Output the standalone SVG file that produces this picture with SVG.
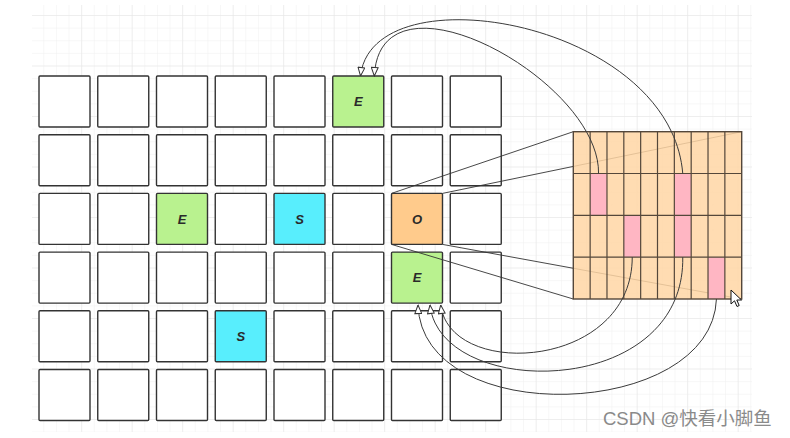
<svg xmlns="http://www.w3.org/2000/svg" width="790" height="438" viewBox="0 0 790 438">
<style>
.cell{fill:#ffffff;stroke:#333333;stroke-width:1.4}
.green{fill:#b9f28f}
.cyan{fill:#58eefd}
.orange{fill:#ffcb8c}
.lbl{font-family:"Liberation Sans",Arial,sans-serif;font-size:13px;font-weight:bold;font-style:italic;fill:#2a2a2a;text-anchor:middle}
.zl{stroke:#333333;stroke-width:0.9;fill:none}
.cv{stroke:#3a3a3a;stroke-width:1;fill:none;marker-end:url(#open)}
.xg{fill:#ffd6a5;fill-opacity:0.85}
.pk{fill:#ffb4c4;fill-opacity:0.94}
.gl{stroke:#54473a;stroke-width:1.2;fill:none}
</style>
<defs>
<pattern id="minor" patternUnits="userSpaceOnUse" x="5.425" y="2.375" width="12.625" height="12.625">
<path d="M12.625 0 L0 0 0 12.625" fill="none" stroke="#efefef" stroke-width="1"/>
</pattern>
<pattern id="major" patternUnits="userSpaceOnUse" x="30.7" y="15" width="50.5" height="50.5">
<path d="M50.5 0 L0 0 0 50.5" fill="none" stroke="#e6e6e6" stroke-width="1"/>
</pattern>
<marker id="open" viewBox="0 0 10 8" refX="9.5" refY="4" markerWidth="10" markerHeight="8" markerUnits="userSpaceOnUse" orient="auto">
<path d="M1 0.6 L9.5 4 L1 7.4 Z" fill="#ffffff" stroke="#333333" stroke-width="1"/>
</marker>
</defs>
<rect width="790" height="438" fill="#ffffff"/>
<g id="background-grid">
<rect x="32" y="5" width="720" height="427" fill="url(#minor)"/>
<rect x="32" y="5" width="720" height="427" fill="url(#major)"/>
</g>
<g id="cells">
<g id="r0c0"><rect class="cell" x="39" y="76" width="51" height="51" rx="1"/></g>
<g id="r0c1"><rect class="cell" x="97.75" y="76" width="51" height="51" rx="1"/></g>
<g id="r0c2"><rect class="cell" x="156.5" y="76" width="51" height="51" rx="1"/></g>
<g id="r0c3"><rect class="cell" x="215.25" y="76" width="51" height="51" rx="1"/></g>
<g id="r0c4"><rect class="cell" x="274" y="76" width="51" height="51" rx="1"/></g>
<g id="r0c5"><rect class="cell green" x="332.75" y="76" width="51" height="51" rx="1"/><text class="lbl" x="358.25" y="106">E</text></g>
<g id="r0c6"><rect class="cell" x="391.5" y="76" width="51" height="51" rx="1"/></g>
<g id="r0c7"><rect class="cell" x="450.25" y="76" width="51" height="51" rx="1"/></g>

<g id="r1c0"><rect class="cell" x="39" y="134.7" width="51" height="51" rx="1"/></g>
<g id="r1c1"><rect class="cell" x="97.75" y="134.7" width="51" height="51" rx="1"/></g>
<g id="r1c2"><rect class="cell" x="156.5" y="134.7" width="51" height="51" rx="1"/></g>
<g id="r1c3"><rect class="cell" x="215.25" y="134.7" width="51" height="51" rx="1"/></g>
<g id="r1c4"><rect class="cell" x="274" y="134.7" width="51" height="51" rx="1"/></g>
<g id="r1c5"><rect class="cell" x="332.75" y="134.7" width="51" height="51" rx="1"/></g>
<g id="r1c6"><rect class="cell" x="391.5" y="134.7" width="51" height="51" rx="1"/></g>
<g id="r1c7"><rect class="cell" x="450.25" y="134.7" width="51" height="51" rx="1"/></g>

<g id="r2c0"><rect class="cell" x="39" y="193.4" width="51" height="51" rx="1"/></g>
<g id="r2c1"><rect class="cell" x="97.75" y="193.4" width="51" height="51" rx="1"/></g>
<g id="r2c2"><rect class="cell green" x="156.5" y="193.4" width="51" height="51" rx="1"/><text class="lbl" x="182" y="223.6">E</text></g>
<g id="r2c3"><rect class="cell" x="215.25" y="193.4" width="51" height="51" rx="1"/></g>
<g id="r2c4"><rect class="cell cyan" x="274" y="193.4" width="51" height="51" rx="1"/><text class="lbl" x="299.5" y="223.6">S</text></g>
<g id="r2c5"><rect class="cell" x="332.75" y="193.4" width="51" height="51" rx="1"/></g>
<g id="r2c6"><rect class="cell orange" x="391.5" y="193.4" width="51" height="51" rx="1"/><text class="lbl" x="417" y="223.6">O</text></g>
<g id="r2c7"><rect class="cell" x="450.25" y="193.4" width="51" height="51" rx="1"/></g>

<g id="r3c0"><rect class="cell" x="39" y="252.1" width="51" height="51" rx="1"/></g>
<g id="r3c1"><rect class="cell" x="97.75" y="252.1" width="51" height="51" rx="1"/></g>
<g id="r3c2"><rect class="cell" x="156.5" y="252.1" width="51" height="51" rx="1"/></g>
<g id="r3c3"><rect class="cell" x="215.25" y="252.1" width="51" height="51" rx="1"/></g>
<g id="r3c4"><rect class="cell" x="274" y="252.1" width="51" height="51" rx="1"/></g>
<g id="r3c5"><rect class="cell" x="332.75" y="252.1" width="51" height="51" rx="1"/></g>
<g id="r3c6"><rect class="cell green" x="391.5" y="252.1" width="51" height="51" rx="1"/><text class="lbl" x="417" y="282.3">E</text></g>
<g id="r3c7"><rect class="cell" x="450.25" y="252.1" width="51" height="51" rx="1"/></g>

<g id="r4c0"><rect class="cell" x="39" y="310.8" width="51" height="51" rx="1"/></g>
<g id="r4c1"><rect class="cell" x="97.75" y="310.8" width="51" height="51" rx="1"/></g>
<g id="r4c2"><rect class="cell" x="156.5" y="310.8" width="51" height="51" rx="1"/></g>
<g id="r4c3"><rect class="cell cyan" x="215.25" y="310.8" width="51" height="51" rx="1"/><text class="lbl" x="240.75" y="341">S</text></g>
<g id="r4c4"><rect class="cell" x="274" y="310.8" width="51" height="51" rx="1"/></g>
<g id="r4c5"><rect class="cell" x="332.75" y="310.8" width="51" height="51" rx="1"/></g>
<g id="r4c6"><rect class="cell" x="391.5" y="310.8" width="51" height="51" rx="1"/></g>
<g id="r4c7"><rect class="cell" x="450.25" y="310.8" width="51" height="51" rx="1"/></g>

<g id="r5c0"><rect class="cell" x="39" y="369.5" width="51" height="51" rx="1"/></g>
<g id="r5c1"><rect class="cell" x="97.75" y="369.5" width="51" height="51" rx="1"/></g>
<g id="r5c2"><rect class="cell" x="156.5" y="369.5" width="51" height="51" rx="1"/></g>
<g id="r5c3"><rect class="cell" x="215.25" y="369.5" width="51" height="51" rx="1"/></g>
<g id="r5c4"><rect class="cell" x="274" y="369.5" width="51" height="51" rx="1"/></g>
<g id="r5c5"><rect class="cell" x="332.75" y="369.5" width="51" height="51" rx="1"/></g>
<g id="r5c6"><rect class="cell" x="391.5" y="369.5" width="51" height="51" rx="1"/></g>
<g id="r5c7"><rect class="cell" x="450.25" y="369.5" width="51" height="51" rx="1"/></g>
</g>
<g id="zoom-lines">
<line class="zl" x1="391.5" y1="193.4" x2="573.3" y2="131.7"/>
<line class="zl" x1="442.5" y1="193.4" x2="741.7" y2="131.7"/>
<line class="zl" x1="391.5" y1="244.4" x2="573.3" y2="299"/>
<line class="zl" x1="442.5" y1="244.4" x2="741.7" y2="299"/>
</g>
<g id="expanded-cell">
<rect class="xg" x="573.3" y="131.7" width="168.4" height="167.3"/>
<rect class="pk" x="590.14" y="173.5" width="16.84" height="41.83"/>
<rect class="pk" x="674.34" y="173.5" width="16.84" height="41.83"/>
<rect class="pk" x="674.34" y="215.33" width="16.84" height="41.83"/>
<rect class="pk" x="623.82" y="215.33" width="16.84" height="41.83"/>
<rect class="pk" x="708.02" y="257.16" width="16.84" height="41.84"/>
<path class="gl" d="M590.14 131.7V299M606.98 131.7V299M623.82 131.7V299M640.66 131.7V299M657.5 131.7V299M674.34 131.7V299M691.18 131.7V299M708.02 131.7V299M724.86 131.7V299M573.3 173.5H741.7M573.3 215.33H741.7M573.3 257.16H741.7"/>
<rect x="573.3" y="131.7" width="168.4" height="167.3" fill="none" stroke="#54473a" stroke-width="1.4"/>
</g>
<g id="connectors">
<path class="cv" d="M682.76 173.5 C670 20 372 -30 360.5 76"/>
<path class="cv" d="M598.56 173.5 C600 80 380 -40 374.3 76"/>
<path class="cv" d="M632.24 257.16 C632 370 450 380 440.7 305"/>
<path class="cv" d="M682.76 257.16 C685 400 440 400 430 305"/>
<path class="cv" d="M716.44 299 C712 420 422 430 418 305"/>
</g>
<path id="cursor" d="M731 290 L731 304 L734.5 300.8 L737 306.5 L739.2 305.5 L736.8 300 L741.5 300 Z" fill="#ffffff" stroke="#111111" stroke-width="1"/>
<text x="603" y="425" font-family="'Liberation Sans','Noto Sans CJK SC',sans-serif" font-size="18.5" fill="#8a8a8a">CSDN @快看小脚鱼</text>
</svg>
